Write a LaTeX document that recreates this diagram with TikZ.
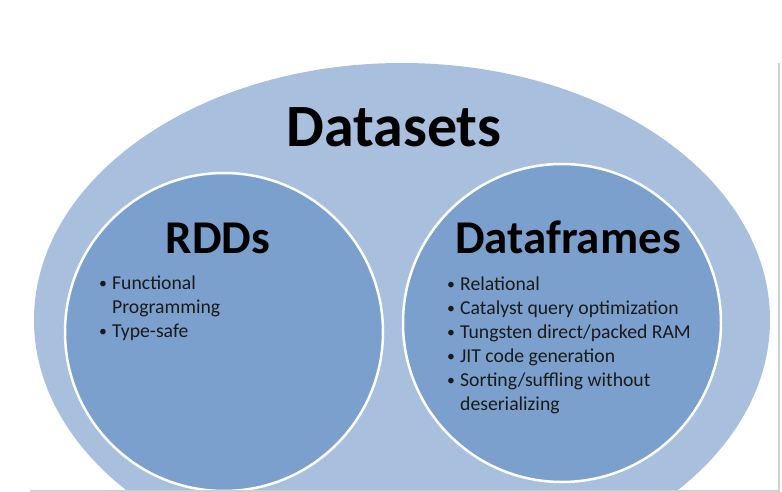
\documentclass[tikz,border=0pt]{standalone}
\usepackage{fontspec}
\setmainfont{Carlito}
\usetikzlibrary{positioning}

\definecolor{outerblue}{HTML}{A8C0DE}
\definecolor{innerblue}{HTML}{7BA0CD}
\definecolor{textdark}{HTML}{1A1A1A}
\definecolor{frameline}{HTML}{D0D0D0}

\newcommand{\bul}{\makebox[13pt][l]{\raisebox{1pt}{\scalebox{0.8}{\textbullet}}}}

\begin{document}
\begin{tikzpicture}[x=1pt, y=-1pt,
  setcircle/.style={circle, fill=innerblue, draw=white, line width=2.5pt, minimum size=318pt, inner sep=0pt},
  bigtitle/.style={font=\bfseries\fontsize{60}{60}\selectfont, anchor=base},
  settitle/.style={font=\fontsize{47}{47}\selectfont\bfseries, anchor=base},
  bullets/.style={font=\fontsize{19.7}{24}\selectfont, text=textdark, anchor=base west, inner sep=0pt}]
\useasboundingbox (0,0) rectangle (782,492);
\clip (0,0) rectangle (782,492);
% outer set
\fill[outerblue] (402,320) ellipse [x radius=368, y radius=257];
\node[bigtitle] (datasets) at (394,147) {Datasets};
% inner sets
\node[setcircle] (rdd) at (224,332) {};
\node[setcircle] (df)  at (562,323) {};
\node[settitle] (rddtitle) at (218,253) {RDDs};
\node[settitle] (dftitle)  at (568,253) {Dataframes};
\node[bullets] (rddlist) at (99,289) {\begin{tabular}[t]{@{}l@{}}
  \bul Functional\\
  \hspace{13pt}Programming\\
  \bul Type-safe
\end{tabular}};
\node[bullets] (dflist) at (447,290) {\begin{tabular}[t]{@{}l@{}}
  \bul Relational\\
  \bul Catalyst query optimization\\
  \bul Tungsten direct/packed RAM\\
  \bul JIT code generation\\
  \bul Sorting/suffling without\\
  \hspace{13pt}deserializing
\end{tabular}};
% slide frame
\draw[frameline, line width=1.5pt] (30,491) -- (779,491) -- (779,63);
\end{tikzpicture}
\end{document}
